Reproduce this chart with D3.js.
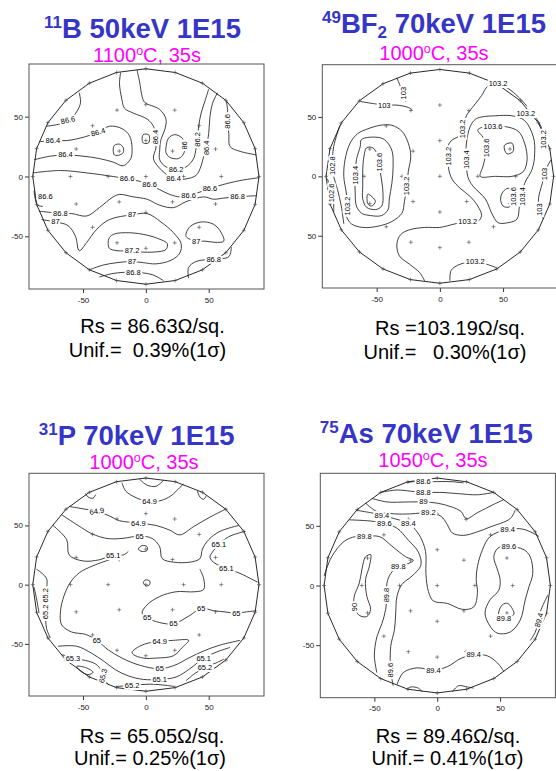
<!DOCTYPE html>
<html><head><meta charset="utf-8">
<script src="https://cdn.jsdelivr.net/npm/d3@7"></script>
<style>
body{margin:0;background:#fff}
svg{display:block}
text{font-family:"Liberation Sans",Arial,sans-serif}
</style>
</head><body>
<svg id="c" width="556" height="771"></svg>
<script>
// ---------- data ----------
const xDomain = [-93, 94];
const yDomain = [94, -94];
const xTicks = [-50, 0, 50];
const xTickLabels = ["-50", "0", "50"];
const yTicks = [50, 0, -50];
const yTickLabelsA = ["50", "0", "-50"];
const yTickLabelsB = ["50", "0", "50"];
// measurement sites: rings (radius mm, count)
const siteRings = [[0, 1], [30, 8], [60, 16], [90, 24]];

const titlesSup = ["11", "49", "31", "75"];
const titlesMain = ["B 50keV 1E15", "BF", "P 70keV 1E15", "As 70keV 1E15"];
const titlesSub = ["", "2", "", ""];
const titlesTail = ["", " 70keV 1E15", "", ""];
const annealTemp = ["1100", "1000", "1000", "1050"];
const annealTail = "C, 35s";
const rsText = ["Rs = 86.63\u03A9/sq.", "Rs =103.19\u03A9/sq.", "Rs = 65.05\u03A9/sq.", "Rs = 89.46\u03A9/sq."];
const unifText = ["Unif.=  0.39%(1\u03C3)", "Unif.=   0.30%(1\u03C3)", "Unif.= 0.25%(1\u03C3)", "Unif.= 0.41%(1\u03C3)"];

// contour lines: level, points (mm), label positions [x, y, angle]
const contoursB = [
 {v:"86.6", p:[[-53,70],[-52,62],[-54,56],[-60,48],[-68,44],[-79,42]], l:[[-62,47,-12]]},
 {v:"86.4", p:[[-85,29],[-74,30],[-63,30],[-49,33],[-38,37],[-29,42],[-19,40],[-13,34],[-11,24],[-12,15],[-18,9],[-26,12],[-37,15],[-50,17],[-64,18],[-76,17],[-89,14]], l:[[-74,30,0],[-38,37,-15],[-64,18,0]]},
 {v:"86.2", c:1, p:[[-26,22],[-25,26],[-21,27],[-18,24],[-18,20],[-21,18],[-25,18]], l:[]},
 {v:"86.2", c:1, p:[[-3,31],[-2,35],[2,35],[3,32],[2,28],[-2,28]], l:[]},
 {v:"86.4", p:[[-20,87],[-21,78],[-19,64],[-17,57],[-10,53],[1,48],[6,42],[8,33],[8,24],[6,15],[10,8],[16,2],[22,-2],[32,-2],[40,1],[44,9],[46,17],[48,24],[50,36],[51,50],[53,61],[57,70]], l:[[8,33,-90],[22,-2,0],[48,24,-90]]},
 {v:"86.2", p:[[-7,89],[-5,79],[-3,67],[-1,62],[11,56],[16,48],[15,39],[12,31],[11,22],[11,14],[16,8],[24,6],[32,8],[38,15],[40,24],[41,31],[42,42],[44,53],[47,63],[50,73]], l:[[24,6,0],[41,31,-90]]},
 {v:"86", c:1, p:[[16,24],[18,32],[23,35],[29,32],[31,26],[30,19],[26,15],[19,16],[16,20]], l:[[31,26,-90]]},
 {v:"86.6", p:[[64,63],[65,56],[65,46],[66,36],[67,25],[75,21],[88,18]], l:[[65,46,-90]]},
 {v:"86.6", p:[[-90,3],[-68,5],[-47,3],[-26,0],[-15,-2],[-5,-4],[3,-7],[11,-11],[19,-15],[27,-17],[34,-16],[43,-13],[51,-10],[64,-6],[77,-3],[90,-1]], l:[[-15,-2,0],[3,-7,0],[34,-16,0],[51,-10,0]]},
 {v:"86.6", p:[[-89,-12],[-88,-19],[-86,-24],[-82,-25]], l:[[-80,-17,0]]},
 {v:"86.8", p:[[-85,-29],[-76,-30],[-68,-31],[-59,-31],[-47,-33],[-37,-26],[-26,-17],[-21,-15],[-10,-17],[1,-19],[11,-24],[22,-26],[32,-21],[46,-17],[54,-19],[62,-18],[73,-17],[88,-16]], l:[[-68,-31,0],[73,-17,0]]},
 {v:"87", p:[[-83,-36],[-72,-38],[-62,-41],[-56,-50],[-53,-62],[-47,-55],[-39,-44],[-29,-36],[-11,-32],[1,-31],[12,-38],[22,-47],[28,-56],[27,-64],[20,-70],[8,-73],[-2,-72],[-11,-71],[-23,-72],[-34,-74],[-45,-78]], l:[[-72,-38,0],[-11,-32,0],[-11,-71,0]]},
 {v:"87.2", c:1, p:[[-29,-51],[-25,-48],[-13,-47],[1,-49],[10,-52],[17,-56],[16,-61],[8,-63],[-5,-63],[-11,-62],[-23,-62],[-29,-60],[-30,-56]], l:[[-11,-62,0]]},
 {v:"87", c:1, p:[[32,-50],[35,-42],[44,-38],[54,-40],[60,-47],[62,-54],[55,-55],[47,-54],[40,-54]], l:[[40,-54,0]]},
 {v:"86.8", p:[[-37,-84],[-26,-81],[-10,-80],[5,-82],[14,-87]], l:[[-10,-80,0]]},
 {v:"86.8", p:[[34,-85],[34,-76],[40,-71],[54,-69],[66,-67],[68,-59]], l:[[54,-69,0]]}
];

const contoursBF = [
 {v:"103", p:[[-63,63],[-51,61],[-44,60],[-34,60],[-25,58],[-22,56]], l:[[-44,60,0]]},
 {v:"103", p:[[-34,83],[-31,75],[-29,69],[-27,63]], l:[[-29,70,-90]]},
 {v:"102.8", p:[[-79,43],[-84,25],[-85,9],[-84,0],[-81,-11],[-78,-25],[-76,-40]], l:[[-85,9,-90]]},
 {v:"102.6", p:[[-89,-2],[-87,-8],[-85,-14],[-84,-24],[-84,-30]], l:[[-86,-14,-90]]},
 {v:"103.2", c:1, p:[[-65,36],[-57,40],[-47,43],[-38,43],[-30,38],[-25,28],[-23,17],[-25,4],[-26,-8],[-28,-21],[-30,-31],[-38,-38],[-49,-42],[-61,-43],[-70,-40],[-74,-33],[-73,-25],[-74,-14],[-76,0],[-75,14],[-71,28]], l:[[-26,-8,-90],[-73,-25,-90]]},
 {v:"103.4", c:1, p:[[-62,31],[-51,33],[-44,31],[-38,22],[-37,8],[-38,-6],[-40,-19],[-41,-28],[-46,-33],[-55,-33],[-62,-31],[-66,-25],[-67,-14],[-67,1],[-66,14],[-63,25]], l:[[-67,1,-90]]},
 {v:"103.6", c:1, p:[[-58,24],[-53,24],[-49,17],[-47,3],[-45,-14],[-46,-25],[-51,-28],[-58,-26],[-61,-19],[-61,-8],[-61,6],[-60,17]], l:[[-48,12,-90]]},
 {v:"103.8", c:1, p:[[-57,-15],[-51,-21],[-54,-25],[-57,-23]], l:[]},
 {v:"103.2", p:[[69,59],[62,67],[54,74],[46,78],[38,76],[33,68],[28,61],[21,51],[18,40],[15,34],[9,30],[6,24],[7,17],[7,6],[10,-3],[16,-10],[24,-17],[30,-25],[33,-33],[30,-38],[22,-38],[12,-40],[0,-43],[-12,-43],[-24,-45],[-31,-49],[-34,-57],[-32,-67],[-24,-74],[-16,-81],[-12,-88]], l:[[46,78,0],[18,40,-90],[7,17,-90],[22,-38,0]]},
 {v:"103.4", c:1, p:[[28,48],[24,42],[21,28],[21,14],[22,0],[26,-8],[36,-19],[41,-31],[46,-39],[54,-39],[61,-36],[63,-25],[65,-17],[67,-6],[73,6],[75,19],[74,33],[67,47],[57,51],[44,51],[33,50]], l:[[21,14,-90],[65,-17,-90]]},
 {v:"103.6", c:1, p:[[30,39],[36,42],[42,42],[51,42],[62,38],[67,28],[69,14],[66,4],[57,0],[44,0],[32,0],[34,8],[36,17],[37,24],[34,33]], l:[[42,42,0],[37,24,-90]]},
 {v:"103.8", c:1, p:[[51,26],[57,28],[58,21],[53,19]], l:[]},
 {v:"103.6", c:1, p:[[50,-13],[54,-10],[58,-12],[58,-17],[57,-24],[54,-26],[50,-25],[48,-19]], l:[[58,-17,-90]]},
 {v:"103.2", p:[[70,56],[76,49],[80,42],[82,31],[86,25]], l:[[68,53,0],[82,31,-90]]},
 {v:"103", p:[[88,14],[84,6],[81,-6],[78,-19],[79,-28],[82,-36]], l:[[83,2,-90],[79,-28,-90]]},
 {v:"103.2", p:[[8,-88],[9,-79],[16,-74],[28,-72],[37,-74],[45,-77]], l:[[28,-72,0]]}
];

const contoursP = [
 {v:"64.9", p:[[-5,89],[1,84],[8,83],[14,88]], l:[]},
 {v:"64.9", p:[[-19,86],[-16,79],[-7,73],[3,70],[12,71],[20,75],[27,82],[30,85]], l:[[3,70,0]]},
 {v:"65", p:[[-48,77],[-46,74],[-42,73],[-40,76]], l:[]},
 {v:"65", p:[[41,79],[43,74],[46,72],[48,75]], l:[]},
 {v:"64.9", p:[[-61,66],[-50,64],[-39,62],[-29,58],[-21,54],[-6,52],[8,50],[19,46],[27,42],[38,49],[51,57],[64,64]], l:[[-39,62,-10],[-6,52,0]]},
 {v:"65", p:[[-67,59],[-54,50],[-43,43],[-31,39],[-19,39],[-5,41],[5,39],[11,32],[13,22],[22,19],[35,19],[43,22],[45,30],[50,38],[59,45],[74,50]], l:[[-5,41,0]]},
 {v:"65.1", p:[[79,45],[67,41],[59,35],[54,29],[51,23],[55,18],[64,14],[76,9],[89,2]], l:[[58,34,0],[64,14,0]]},
 {v:"65.1", p:[[-74,50],[-63,38],[-61,25],[-50,20],[-37,21],[-26,25],[-18,25],[-14,28]], l:[[-26,25,0]]},
 {v:"65", p:[[-29,21],[-42,16],[-53,10],[-60,2],[-65,-9],[-68,-23],[-67,-34],[-59,-40],[-48,-42],[-39,-47],[-30,-55],[-19,-62],[-5,-68],[11,-71],[23,-68],[34,-62],[46,-56],[59,-51],[75,-47]], l:[[-39,-47,0],[11,-71,0]]},
 {v:"65", p:[[88,-22],[80,-23],[72,-24],[63,-23],[54,-22],[44,-20],[35,-26],[22,-33],[11,-32],[1,-28],[-3,-24],[1,-17],[11,-10],[24,-6],[39,-6],[46,-4],[46,5],[43,13]], l:[[72,-24,0],[44,-20,0],[22,-33,0],[1,-28,0]]},
 {v:"64.9", c:1, p:[[-11,-57],[-5,-52],[3,-49],[11,-48],[22,-47],[34,-47],[29,-53],[22,-60],[8,-62],[-2,-62],[-10,-59]], l:[[11,-48,0]]},
 {v:"65.1", p:[[-70,-52],[-55,-52],[-43,-58],[-33,-65],[-24,-72],[-14,-77],[-2,-80],[11,-80],[24,-78],[35,-71],[46,-62],[56,-57],[67,-53]], l:[[11,-80,0],[46,-62,0]]},
 {v:"65.2", p:[[32,-81],[39,-75],[47,-70],[56,-66],[62,-63]], l:[[47,-70,0]]},
 {v:"65.2", p:[[-24,-86],[-11,-85],[3,-84],[16,-85],[23,-86]], l:[[-11,-85,0]]},
 {v:"65.3", p:[[-67,-59],[-58,-62],[-48,-64],[-40,-67],[-35,-73],[-33,-80],[-30,-84]], l:[[-58,-62,0],[-34,-77,-75]]},
 {v:"65.3", c:1, p:[[-55,-69],[-48,-70],[-42,-74],[-46,-76],[-52,-73]], l:[]},
 {v:"65.2", p:[[-87,13],[-79,5],[-80,-9],[-80,-17],[-80,-23],[-79,-37],[-76,-45]], l:[[-80,-9,-90],[-80,-23,-90]]},
 {v:"65.2", p:[[-89,-2],[-87,-12],[-85,-24]], l:[]},
 {v:"65", c:1, p:[[-6,30],[-3,33],[1,32],[1,29],[-3,28]], l:[]},
 {v:"65", c:1, p:[[-2,2],[0,4],[3,3],[3,0],[0,-1]], l:[]}
];

const contoursAs = [
 {v:"88.6", p:[[-24,86],[-19,87],[-11,87],[-3,87],[11,87],[21,86]], l:[[-11,87,0]]},
 {v:"88.8", p:[[-45,78],[-32,80],[-21,79],[-11,78],[3,78],[16,77],[32,76],[45,78]], l:[[-11,78,0]]},
 {v:"89", p:[[-52,73],[-40,70],[-23,70],[-11,70],[0,69],[11,66],[19,62],[23,56],[32,61],[45,68],[53,72]], l:[[-11,70,0]]},
 {v:"89.2", p:[[-57,69],[-48,62],[-34,60],[-21,60],[-7,61],[3,58],[8,51],[12,44],[21,42],[32,45],[42,49],[58,56],[62,63]], l:[[-7,61,0]]},
 {v:"89.4", p:[[-64,63],[-53,61],[-44,59],[-34,56],[-23,52],[-16,45],[-11,35],[-9,26],[-9,10],[-7,-5],[-3,-13],[8,-15],[20,-20],[29,-18],[32,-6],[31,5],[32,16],[36,30],[42,41],[56,47],[69,47],[81,41]], l:[[-44,59,0],[-23,52,0],[56,47,0]]},
 {v:"89.6", p:[[-70,55],[-53,54],[-42,52],[-32,48],[-23,38],[-15,28],[-13,17],[-20,8],[-28,1],[-32,-9],[-33,-23],[-34,-37],[-37,-51],[-37,-71],[-35,-84]], l:[[-42,52,0],[-37,-71,-90]]},
 {v:"89.8", p:[[-90,8],[-84,24],[-74,37],[-65,41],[-58,41],[-46,41],[-36,33],[-25,24],[-19,21],[-24,18],[-31,16],[-37,10],[-40,2],[-40,-8],[-41,-20],[-44,-32],[-48,-43],[-50,-59],[-48,-73]], l:[[-58,41,0],[-31,16,0],[-40,-8,-90]]},
 {v:"90", c:1, p:[[-57,24],[-53,26],[-54,16],[-57,5],[-56,-9],[-53,-20],[-56,-26],[-62,-25],[-66,-18],[-66,-9],[-62,2],[-60,13],[-58,22]], l:[[-66,-18,-90]]},
 {v:"89.6", c:1, p:[[48,31],[53,33],[57,33],[69,30],[74,24],[76,10],[73,-1],[70,-12],[66,-29],[58,-39],[48,-40],[42,-34],[38,-23],[42,-12],[49,-4],[50,5],[48,13],[45,24]], l:[[57,33,0]]},
 {v:"89.8", c:1, p:[[49,-22],[52,-16],[56,-15],[60,-20],[61,-24],[57,-27],[53,-28],[49,-26]], l:[[53,-28,0]]},
 {v:"89.4", p:[[88,-8],[82,-22],[81,-29],[78,-39],[74,-46]], l:[[81,-29,-75]]},
 {v:"89.4", p:[[-32,-83],[-27,-73],[-16,-69],[-3,-71],[8,-68],[19,-61],[29,-58],[40,-59],[48,-65],[53,-72]], l:[[-3,-71,0],[29,-58,0]]},
 {v:"89.4", p:[[-24,-87],[-21,-85],[-15,-86],[-12,-89]], l:[]},
 {v:"89.4", p:[[12,-89],[17,-84],[24,-85],[29,-86]], l:[]}
];

// ---------- layout ----------
const layout = [
 {box:[29,264,64,289], t:[142.5,37.7], s:[147,61.7], r:[152.5,333], u:[147.5,356.7], yl:yTickLabelsA, c:contoursB},
 {box:[322.3,558.7,64.7,288], t:[434,33.3], s:[434,60], r:[450,335], u:[445,359], yl:yTickLabelsB, c:contoursBF},
 {box:[29,264,473.3,696], t:[136.7,445], s:[144,468.8], r:[152,742.7], u:[150,765], yl:yTickLabelsA, c:contoursP},
 {box:[320.3,555.4,473.3,697.7], t:[426.3,443], s:[433,466.5], r:[448,742.7], u:[447.5,765], yl:yTickLabelsA, c:contoursAs}
];

const svg = d3.select("#c");
const FONT = '"Liberation Sans",Arial,sans-serif';

const sites = [];
siteRings.forEach(([r,n],ri)=>{
  for(let k=0;k<n;k++){
    const a = k*2*Math.PI/n;
    sites.push({ring:ri, x:r*Math.cos(a), y:r*Math.sin(a)});
  }
});

layout.forEach((L,i)=>{
  const g = svg.append("g");
  const x = d3.scaleLinear().domain(xDomain).range([L.box[0],L.box[1]]);
  const y = d3.scaleLinear().domain(yDomain).range([L.box[2],L.box[3]]);

  // title
  const t = g.append("text").attr("x",L.t[0]).attr("y",L.t[1]).attr("text-anchor","middle")
    .attr("font-size",27.5).attr("font-weight","bold").attr("fill","#3535c8");
  t.append("tspan").attr("font-size",17).attr("dy",-10).text(titlesSup[i]);
  t.append("tspan").attr("dy",10).text(titlesMain[i]);
  if(titlesSub[i]){
    t.append("tspan").attr("font-size",17).attr("dy",5).text(titlesSub[i]);
    t.append("tspan").attr("dy",-5).text(titlesTail[i]);
  }
  // subtitle
  const s = g.append("text").attr("x",L.s[0]).attr("y",L.s[1]).attr("text-anchor","middle")
    .attr("font-size",20).attr("fill","#ff00ff");
  s.append("tspan").text(annealTemp[i]);
  s.append("tspan").attr("font-size",12.5).attr("dy",-7).text("o");
  s.append("tspan").attr("dy",7).text(annealTail);

  // Rs / uniformity
  g.append("text").attr("x",L.r[0]).attr("y",L.r[1]).attr("text-anchor","middle")
    .attr("font-size",20).attr("fill","#000").style("white-space","pre").text(rsText[i]);
  g.append("text").attr("x",L.u[0]).attr("y",L.u[1]).attr("text-anchor","middle")
    .attr("font-size",20).attr("fill","#000").style("white-space","pre").text(unifText[i]);

  // axes
  const ax = g.append("g").attr("transform",`translate(0,${L.box[3]})`)
    .call(d3.axisBottom(x).tickValues(xTicks).tickFormat((d,k)=>xTickLabels[k]).tickSize(4).tickPadding(4));
  const ay = g.append("g").attr("transform",`translate(${L.box[0]},0)`)
    .call(d3.axisLeft(y).tickValues(yTicks).tickFormat((d,k)=>L.yl[k]).tickSize(4).tickPadding(2));
  [ax,ay].forEach(a=>{
    a.select(".domain").remove();
    a.selectAll("text").attr("font-size",8).attr("font-family",FONT).attr("fill","#222");
    a.selectAll("line").attr("stroke","#333");
  });

  // frame
  g.append("rect").attr("x",L.box[0]).attr("y",L.box[2])
    .attr("width",L.box[1]-L.box[0]).attr("height",L.box[3]-L.box[2])
    .attr("fill","none").attr("stroke","#555").attr("stroke-width",1);

  const clipId = "clip"+i;
  g.append("clipPath").attr("id",clipId).append("rect")
    .attr("x",L.box[0]).attr("y",L.box[2]).attr("width",L.box[1]-L.box[0]).attr("height",L.box[3]-L.box[2]);
  const pg = g.append("g").attr("clip-path",`url(#${clipId})`);

  // wafer outline through outer sites
  const outer = sites.filter(d=>d.ring===3).map(d=>[d.x,d.y]);
  pg.append("path").attr("d", d3.line().x(d=>x(d[0])).y(d=>y(d[1])).curve(d3.curveLinearClosed)(outer))
    .attr("fill","none").attr("stroke","#111").attr("stroke-width",0.9);

  // contours
  L.c.forEach(c=>{
    const ln = d3.line().x(d=>x(d[0])).y(d=>y(d[1]))
      .curve(c.c ? d3.curveCatmullRomClosed.alpha(0.5) : d3.curveCatmullRom.alpha(0.5));
    pg.append("path").attr("d", ln(c.p)).attr("fill","none").attr("stroke","#111").attr("stroke-width",0.8);
  });

  // site marks
  pg.selectAll("path.site").data(sites).join("path").attr("class","site")
    .attr("d",d=>{const px=x(d.x), py=y(d.y); return `M${px-2},${py}H${px+2}M${px},${py-2}V${py+2}`;})
    .attr("stroke","#444").attr("stroke-width",0.6);

  // contour labels
  L.c.forEach(c=>{
    c.l.forEach(lb=>{
      pg.append("text").attr("transform",`translate(${x(lb[0])},${y(lb[1])}) rotate(${lb[2]})`)
        .attr("text-anchor","middle").attr("dominant-baseline","central")
        .attr("font-size",7.5).attr("fill","#000")
        .attr("stroke","#fff").attr("stroke-width",4).attr("paint-order","stroke")
        .text(c.v);
    });
  });
});
</script>
</body></html>
